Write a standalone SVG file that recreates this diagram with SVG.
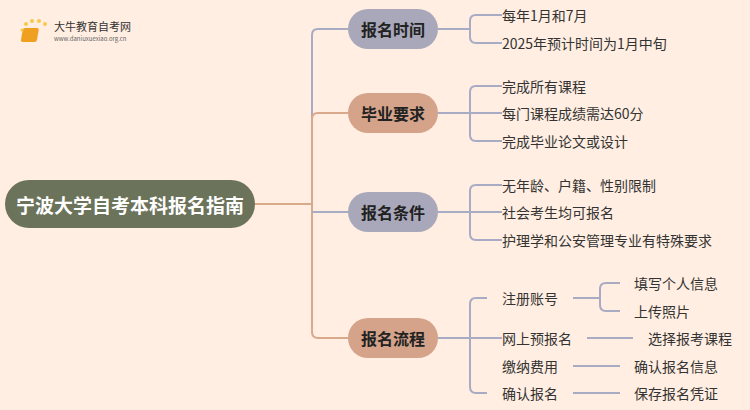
<svg xmlns="http://www.w3.org/2000/svg" width="750" height="410" viewBox="0 0 750 410">
<style>
text{font-family:"Noto Sans CJK SC","Liberation Sans",sans-serif}
.leaf{font-size:14px;fill:#333;dominant-baseline:central}
.br{font-size:16px;font-weight:bold;fill:#222;text-anchor:middle;dominant-baseline:central}
.g{fill:none;stroke:#A8ABC4;stroke-width:2}
.t{fill:none;stroke:#D9A98C;stroke-width:2}
</style>
<rect width="750" height="410" fill="#FFEEE1"/>
<g id="logo">
<rect x="28" y="28" width="16" height="14" rx="2" fill="#F0A020" transform="skewX(-10)"/>
<circle cx="26" cy="24" r="2" fill="#F7C948"/><circle cx="32" cy="21" r="2" fill="#F7C948"/><circle cx="39" cy="21" r="2" fill="#F7C948"/><circle cx="45" cy="24" r="2" fill="#F7C948"/><circle cx="22" cy="30" r="1.5" fill="#F7C948"/>
<text x="54" y="31" font-size="11" fill="#333">大牛教育自考网</text>
<text x="54" y="41" font-size="6" fill="#666">www.daniuxuexiao.org.cn</text>
</g>
<g id="connectors">
<path class="t" d="M255 204H312"/>
<path class="g" d="M348 29H318Q312 29 312 35V204"/>
<path class="t" d="M348 113H318Q312 113 312 119V332Q312 338 318 338H348"/>
<path class="g" d="M312 212H348"/>
<path class="g" d="M438 29H470M502 15H476Q470 15 470 21V37Q470 43 476 43H502"/>
<path class="g" d="M438 113H502M502 86H476Q470 86 470 92V135Q470 141 476 141H502"/>
<path class="g" d="M438 212H502M502 185H476Q470 185 470 191V234Q470 240 476 240H502"/>
<path class="g" d="M438 338H502M487 298H476Q470 298 470 304V387Q470 393 476 393H487"/>
<path class="g" d="M573 298H600M620 283H606Q600 283 600 289V305Q600 311 606 311H620"/>
<path class="g" d="M587 338H633M573 366H620M573 393H620"/>
</g>
<g id="root"><rect x="5" y="180" width="250" height="48" rx="24" fill="#6B735A"/><text x="130" y="204" font-size="19" font-weight="bold" fill="#fff" text-anchor="middle" dominant-baseline="central">宁波大学自考本科报名指南</text></g>
<g id="n1"><rect x="348" y="9" width="90" height="40" rx="20" fill="#A9A8BA"/><text class="br" x="393" y="29">报名时间</text></g>
<g id="n2"><rect x="348" y="93" width="90" height="40" rx="20" fill="#D4A389"/><text class="br" x="393" y="113">毕业要求</text></g>
<g id="n3"><rect x="348" y="192" width="90" height="40" rx="20" fill="#A9A8BA"/><text class="br" x="393" y="212">报名条件</text></g>
<g id="n4"><rect x="348" y="318" width="90" height="40" rx="20" fill="#D4A389"/><text class="br" x="393" y="338">报名流程</text></g>
<g id="leaves">
<text class="leaf" x="502" y="15">每年1月和7月</text>
<text class="leaf" x="502" y="43">2025年预计时间为1月中旬</text>
<text class="leaf" x="502" y="86">完成所有课程</text>
<text class="leaf" x="502" y="113">每门课程成绩需达60分</text>
<text class="leaf" x="502" y="141">完成毕业论文或设计</text>
<text class="leaf" x="502" y="185">无年龄、户籍、性别限制</text>
<text class="leaf" x="502" y="212">社会考生均可报名</text>
<text class="leaf" x="502" y="240">护理学和公安管理专业有特殊要求</text>
<text class="leaf" x="502" y="298">注册账号</text>
<text class="leaf" x="502" y="338">网上预报名</text>
<text class="leaf" x="502" y="366">缴纳费用</text>
<text class="leaf" x="502" y="393">确认报名</text>
<text class="leaf" x="634" y="283">填写个人信息</text>
<text class="leaf" x="634" y="311">上传照片</text>
<text class="leaf" x="648" y="338">选择报考课程</text>
<text class="leaf" x="634" y="366">确认报名信息</text>
<text class="leaf" x="634" y="393">保存报名凭证</text>
</g>
</svg>
